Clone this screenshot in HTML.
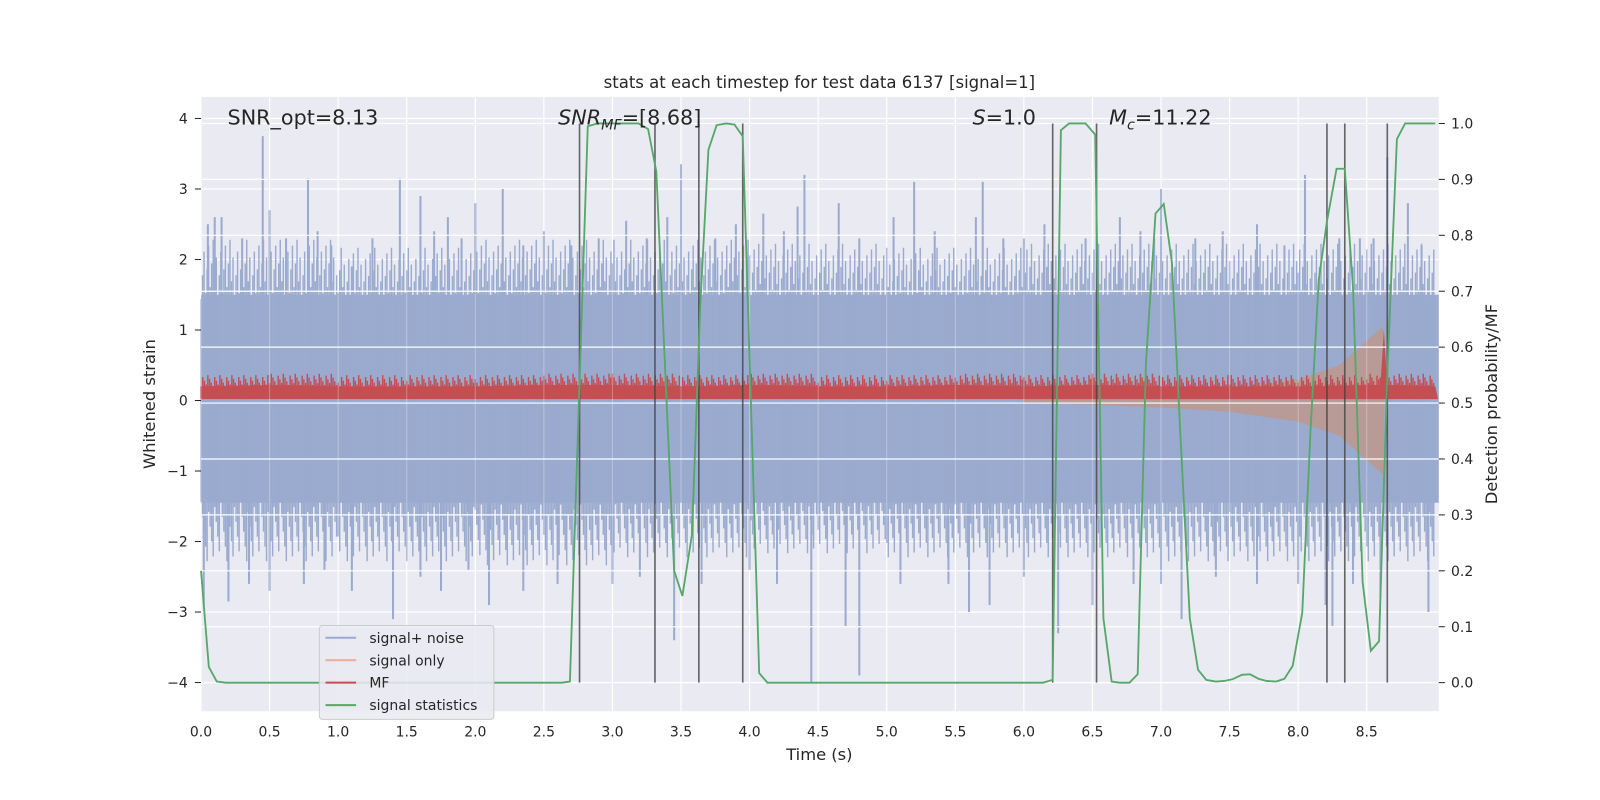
<!DOCTYPE html>
<html><head><meta charset="utf-8"><style>
html,body{margin:0;padding:0;width:1600px;height:800px;overflow:hidden;background:#fff;}
svg{display:block;font-family:"DejaVu Sans","Liberation Sans",sans-serif;}
</style></head><body>
<svg id="chart" width="1600" height="800" viewBox="0 0 1600 800">
<g transform="scale(1.0204)">
<rect x="197" y="95" width="1213" height="602" fill="#eaeaf2"/>
<g id="under"></g>
<g id="blue"></g>
<g id="orange"></g>
<g id="red"></g>
<g id="over"></g>
<g id="vlines"></g>
<g id="green"></g>
<g id="ticks"></g>
<text x="803" y="86" font-size="16.2" text-anchor="middle" fill="#262626">stats at each timestep for test data 6137 [signal=1]</text>
<text x="803" y="745" font-size="16" text-anchor="middle" fill="#262626">Time (s)</text>
<text transform="translate(152,396) rotate(-90)" font-size="16" text-anchor="middle" fill="#262626">Whitened strain</text>
<text transform="translate(1467,396) rotate(-90)" font-size="16" text-anchor="middle" fill="#262626">Detection probability/MF</text>
<g font-size="20.3" fill="#262626">
<text x="223" y="122">SNR_opt=8.13</text>
<text x="547" y="122"><tspan font-style="italic">SNR</tspan><tspan font-style="italic" font-size="14" dy="5">MF</tspan><tspan dy="-5">=[8.68]</tspan></text>
<text x="953" y="122"><tspan font-style="italic">S</tspan>=1.0</text>
<text x="1087" y="122"><tspan font-style="italic">M</tspan><tspan font-style="italic" font-size="14" dy="5">c</tspan><tspan dy="-5">=11.22</tspan></text>
</g>
<g>
<rect x="313" y="613" width="171" height="92" rx="3" fill="#eaeaf2" fill-opacity="0.85" stroke="#cccccc"/>
<line x1="319" y1="625" x2="349" y2="625" stroke="#9aabcf" stroke-width="2"/>
<text x="362" y="630" font-size="13.7" fill="#262626">signal+ noise</text>
<line x1="319" y1="647" x2="349" y2="647" stroke="#e8b39a" stroke-width="2"/>
<text x="362" y="652" font-size="13.7" fill="#262626">signal only</text>
<line x1="319" y1="669" x2="349" y2="669" stroke="#c44e52" stroke-width="2"/>
<text x="362" y="674" font-size="13.7" fill="#262626">MF</text>
<line x1="319" y1="691" x2="349" y2="691" stroke="#55a868" stroke-width="2"/>
<text x="362" y="696" font-size="13.7" fill="#262626">signal statistics</text>
</g>
</g>
</svg>
<script>
const xTicks=[0,0.5,1,1.5,2,2.5,3,3.5,4,4.5,5,5.5,6,6.5,7,7.5,8,8.5];
const yTicks=[-4,-3,-2,-1,0,1,2,3,4];
const pTicks=[0,0.1,0.2,0.3,0.4,0.5,0.6,0.7,0.8,0.9,1.0];
const statT=[0,0.057,0.115,0.18,2.63,2.69,2.82,2.89,3.19,3.26,3.32,3.45,3.51,3.58,3.64,3.70,3.76,3.83,3.89,3.95,4.07,4.13,6.14,6.21,6.27,6.33,6.45,6.52,6.58,6.64,6.70,6.77,6.83,6.89,6.96,7.02,7.08,7.14,7.21,7.27,7.33,7.40,7.46,7.52,7.59,7.65,7.71,7.77,7.84,7.90,7.96,8.03,8.09,8.15,8.21,8.28,8.34,8.40,8.47,8.53,8.59,8.65,8.72,8.78,9.0];
const statP=[0.2,0.028,0.002,0,0,0.002,0.995,1,1,0.99,0.914,0.2,0.155,0.265,0.673,0.953,0.997,1,0.998,0.977,0.017,0,0,0.005,0.988,1,1,0.98,0.115,0.002,0,0,0.015,0.57,0.839,0.856,0.75,0.45,0.115,0.023,0.005,0.002,0.003,0.006,0.014,0.015,0.007,0.003,0.002,0.007,0.03,0.125,0.45,0.72,0.825,0.919,0.919,0.706,0.18,0.057,0.074,0.55,0.972,1,1];
const detT=[2.76,3.31,3.63,3.95,6.21,6.53,8.21,8.34,8.65];
const upT=[0.05,0.1,0.15,0.3,0.45,0.5,0.62,0.78,0.85,0.95,1.1,1.25,1.45,1.6,1.7,1.8,1.9,2.0,2.2,2.35,2.5,2.7,2.9,3.1,3.25,3.4,3.5,3.75,3.9,4.1,4.25,4.35,4.4,4.65,4.8,5.05,5.2,5.35,5.65,5.7,5.85,6.0,6.15,6.45,6.7,6.85,6.95,7.0,7.25,7.45,7.7,7.9,8.05,8.3,8.45,8.55,8.65,8.8,8.9];
const upV=[2.5,2.6,2.6,2.3,3.75,2.7,2.3,3.15,2.4,2.2,1.9,2.3,3.15,2.9,2.4,2.6,2.3,2.8,3.0,2.2,2.4,2.2,2.3,2.55,2.3,2.6,3.35,2.3,2.5,2.65,2.4,2.75,3.2,2.8,2.3,2.6,3.1,2.4,2.6,3.1,2.3,2.3,2.5,2.3,2.6,2.4,2.3,3.0,2.3,2.4,2.5,2.2,3.2,2.3,2.3,2.3,3.45,2.8,2.2];
const dnT=[0.02,0.2,0.35,0.5,0.75,0.9,1.1,1.4,1.6,1.75,1.95,2.1,2.35,2.6,3.0,3.2,3.45,3.65,4.0,4.2,4.45,4.7,4.8,5.1,5.45,5.6,5.75,6.0,6.25,6.5,6.8,7.0,7.15,7.4,7.7,8.0,8.2,8.25,8.4,8.6,8.95];
const dnV=[-2.9,-2.85,-2.6,-2.7,-2.6,-2.4,-2.7,-3.1,-2.5,-2.7,-2.4,-2.9,-2.7,-2.6,-2.6,-2.5,-3.4,-2.6,-2.4,-2.6,-4.0,-3.2,-3.9,-2.6,-2.6,-3.0,-2.9,-2.5,-3.3,-2.9,-2.6,-2.6,-3.1,-2.5,-2.6,-2.6,-2.9,-3.2,-2.6,-2.8,-3.0];
const envT=[0,1,2,3,4,5,6,7,8,9];
const envTop=[2.0,1.9,2.0,2.0,1.95,1.9,1.95,1.95,1.95,1.95];
const envBot=[-2.0,-2.0,-2.05,-1.95,-1.9,-1.95,-1.95,-2.0,-2.0,-2.0];
const mfT=[0,0.5,1,1.5,2,2.5,3,3.5,4,4.5,5,5.5,6,6.5,7,7.5,8,8.5,8.6,8.625,8.65,9];
const mfTop=[0.2,0.22,0.2,0.2,0.2,0.22,0.22,0.2,0.22,0.2,0.2,0.22,0.2,0.22,0.2,0.2,0.2,0.22,0.22,1.0,0.22,0.2];
const sigT=[6.0,6.5,7.0,7.5,8.0,8.3,8.5,8.62,8.63,9.0];
const sigA=[0.03,0.06,0.1,0.16,0.3,0.5,0.85,1.05,0,0];
const X=t=>197+t*134.4, Y=v=>392.5-v*69.1, P=p=>669-p*548;
const NS='http://www.w3.org/2000/svg';
function mk(tag,attrs,parent){const e=document.createElementNS(NS,tag);for(const k in attrs)e.setAttribute(k,attrs[k]);document.getElementById(parent).appendChild(e);return e;}
xTicks.forEach(t=>{const l=mk('line',{x1:X(t),x2:X(t),y1:95,y2:697,stroke:'#fff','stroke-width':1.2},'under');

});
yTicks.forEach(v=>{const l=mk('line',{x1:197,x2:1410,y1:Y(v),y2:Y(v),stroke:'#fff','stroke-width':1.2},'under');

});
const core=mk('rect',{x:197,y:Y(1.5),width:1213,height:Y(-1.45)-Y(1.5),fill:'#9aabcf'},'blue');


for(let i=0;i<envT.length-1;i++){for(let k=0;k<90;k++){const t=envT[i]+k/90;if(X(t)>1410)break;
const h=envTop[i]*(0.72+0.42*((k*37+i*13)%11)/10);const b=envBot[i]*(0.72+0.42*((k*29+i*7)%13)/12);
const l=mk('line',{x1:X(t),x2:X(t),y1:Y(h),y2:Y(b),stroke:'#9aabcf','stroke-width':1.4},'blue');

}}
upT.forEach((t,i)=>{const l=mk('line',{x1:X(t),x2:X(t),y1:Y(upV[i]),y2:Y(0),stroke:'#9aabcf','stroke-width':2},'blue');

});
dnT.forEach((t,i)=>{const l=mk('line',{x1:X(t),x2:X(t),y1:Y(dnV[i]),y2:Y(0),stroke:'#9aabcf','stroke-width':2},'blue');

});
let pts=sigT.map((t,i)=>X(t)+','+Y(sigA[i])).concat(sigT.slice().reverse().map((t,i)=>X(t)+','+Y(-sigA[sigT.length-1-i])));
const sg=mk('polygon',{points:pts.join(' '),fill:'#dd8452','fill-opacity':0.45},'orange');


pts=mfT.map((t,i)=>X(Math.min(t,9.02))+','+Y(mfTop[i]));pts.push(X(9.02)+','+Y(0.02));pts.push(X(0)+','+Y(0.02));
const mf=mk('polygon',{points:pts.join(' '),fill:'#c44e52'},'red');


for(let i=0;i<mfT.length-1;i++){const n=Math.max(1,Math.round((mfT[i+1]-mfT[i])*80));for(let k=0;k<n;k++){const t=mfT[i]+(mfT[i+1]-mfT[i])*k/n;if(X(t)>1410)break;const v=Math.min(mfTop[i],0.3)+0.16*(((k*5+i)%7)/6);
const l=mk('line',{x1:X(t),x2:X(t),y1:Y(v),y2:Y(0.03),stroke:'#c44e52','stroke-width':1.4},'red');

}}
pTicks.forEach(p=>{const l=mk('line',{x1:197,x2:1410,y1:P(p),y2:P(p),stroke:'#fff','stroke-width':1.2},'over');

});
xTicks.forEach(t=>{const l=mk('line',{x1:X(t),x2:X(t),y1:95,y2:697,stroke:'#fff','stroke-width':1,'stroke-opacity':0.3},'over');

});
detT.forEach(t=>{const l=mk('line',{x1:X(t),x2:X(t),y1:P(1),y2:P(0),stroke:'#444','stroke-opacity':0.8,'stroke-width':1.6},'vlines');

});
const g=mk('polyline',{points:statT.map((t,i)=>X(Math.min(t,9.02))+','+P(statP[i])).join(' '),fill:'none',stroke:'#55a868','stroke-width':1.8},'green');


xTicks.forEach(t=>{const e=mk('text',{x:X(t),y:722,'font-size':13.7,'text-anchor':'middle',fill:'#262626'},'ticks');e.textContent=t.toFixed(1);

});
yTicks.forEach(v=>{const e=mk('text',{x:184,y:Y(v)+5,'font-size':13.7,'text-anchor':'end',fill:'#262626'},'ticks');e.textContent=v<0?'\u2212'+(-v):String(v);


const m=mk('line',{x1:191,x2:197,y1:Y(v),y2:Y(v),stroke:'#262626','stroke-width':1},'ticks');

});
pTicks.forEach(p=>{const e=mk('text',{x:1422,y:P(p)+5,'font-size':13.7,fill:'#262626'},'ticks');e.textContent=p.toFixed(1);


const m=mk('line',{x1:1410,x2:1416,y1:P(p),y2:P(p),stroke:'#262626','stroke-width':1},'ticks');

});
</script>
</body></html>
